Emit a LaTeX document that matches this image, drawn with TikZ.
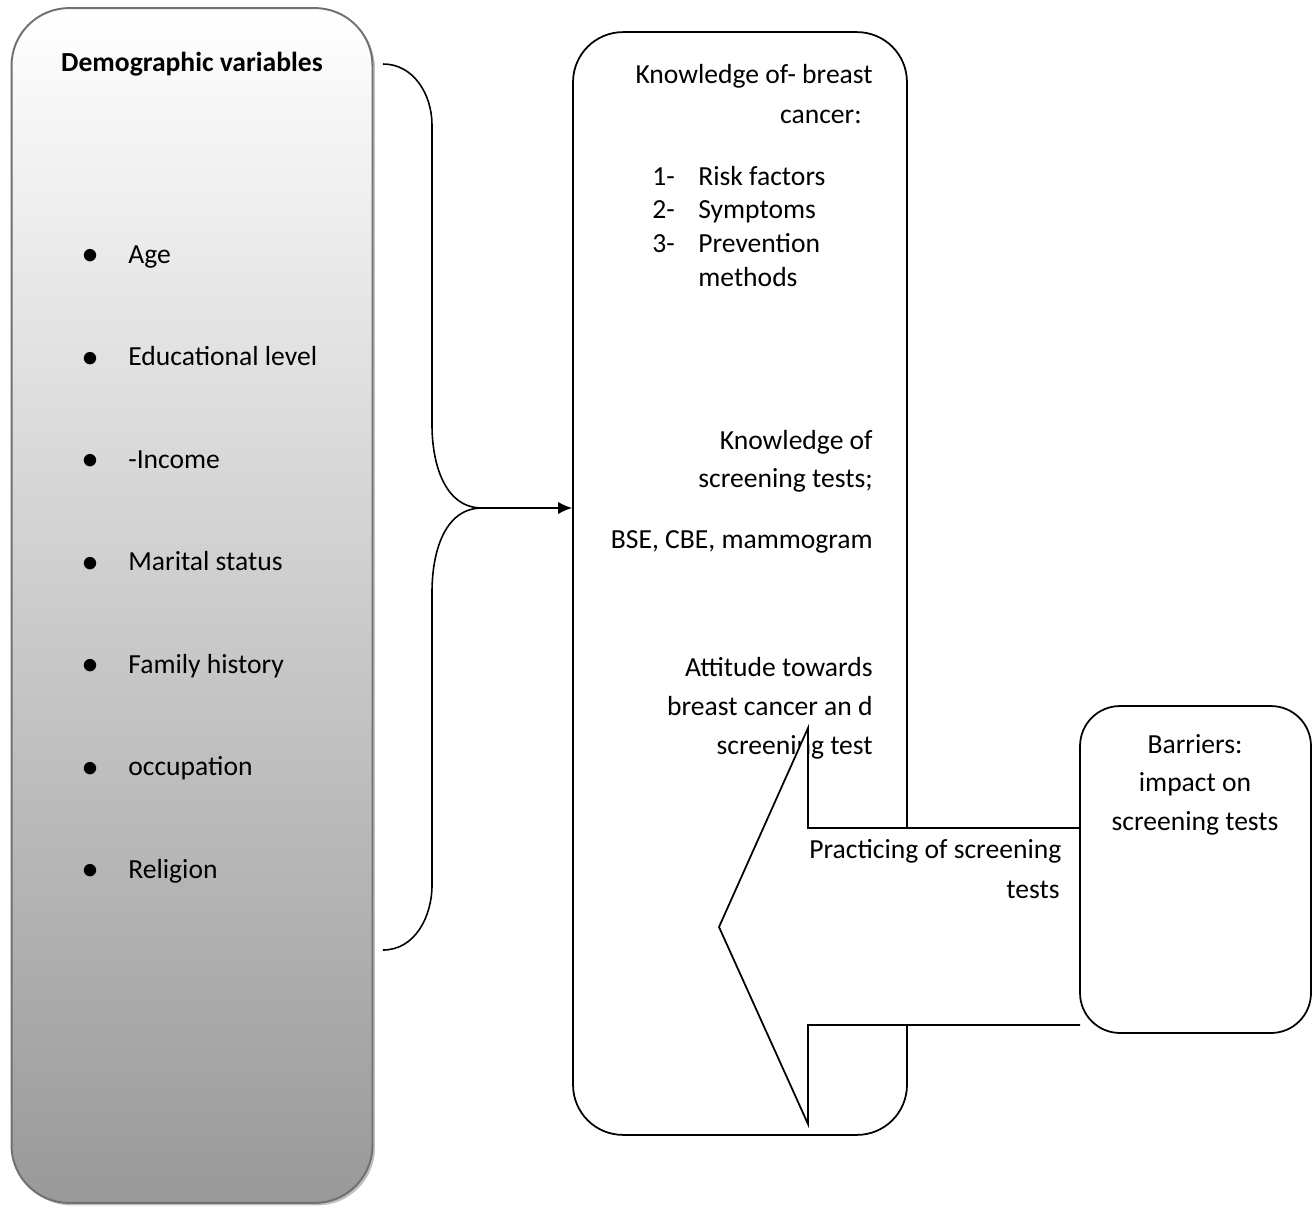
\documentclass[tikz,border=0pt]{standalone}
\usepackage{fontspec}
\setmainfont{Carlito}
\usetikzlibrary{positioning,shadows,arrows.meta}
\definecolor{demogray}{RGB}{153,153,153}
\definecolor{demoedge}{RGB}{112,112,112}
\tikzset{
   demo box/.style={rectangle, draw=demoedge, line width=1.1pt, rounded corners=1.15cm, top color=white, bottom color=demogray,
                    drop shadow={shadow xshift=0.05cm, shadow yshift=-0.05cm, fill=black, opacity=0.25}},
   frame box/.style={rectangle, draw=black, line width=1pt, rounded corners=1cm},
   txt/.style={inner sep=0pt, font=\fontsize{15.7}{19.3}\selectfont},
   item/.style={txt, anchor=base west},
   right line/.style={txt, anchor=base east},
   >={Latex[length=8pt,width=7pt]}
}
\newcommand{\bulletitem}[1]{\makebox[0.94cm][l]{\raisebox{-1.6pt}{\fontsize{20}{20}\selectfont•}}#1}

\begin{document}
\begin{tikzpicture}[x=0.02cm,y=-0.02cm]
  \useasboundingbox (0,0) rectangle (1314,1207);

  \node[demo box, minimum width=7.22cm, minimum height=23.9cm] at (192,605.5) (demographic) {};
  \node[frame box, minimum width=6.68cm, minimum height=22.06cm] at (740,583.5) (knowledge) {};

  %%%%%%%%%%%

  \node[txt, anchor=base, font=\fontsize{15.7}{19.3}\selectfont\bfseries] at (192,71) (demo title) {Demographic variables};
  \node[item] at (81,263)   (age)        {\bulletitem{Age}};
  \node[item] at (81,365.5) (education)  {\bulletitem{Educational level}};
  \node[item] at (81,468)   (income)     {\bulletitem{-Income}};
  \node[item] at (81,570.5) (marital)    {\bulletitem{Marital status}};
  \node[item] at (81,673)   (family)     {\bulletitem{Family history}};
  \node[item] at (81,775.5) (occupation) {\bulletitem{occupation}};
  \node[item] at (81,878)   (religion)   {\bulletitem{Religion}};

  \node[right line] at (873,83)  (know cancer 1) {Knowledge of- breast};
  \node[right line] at (862,123) (know cancer 2) {cancer:};
  \node[item] at (652,185) (risk)       {\makebox[0.92cm][l]{1-}Risk factors};
  \node[item] at (652,218) (symptoms)   {\makebox[0.92cm][l]{2-}Symptoms};
  \node[item] at (652,252) (prevention) {\makebox[0.92cm][l]{3-}Prevention};
  \node[item] at (698,286) (methods)    {methods};

  \node[right line] at (873,449) (know screen 1) {Knowledge of};
  \node[right line] at (873,487) (know screen 2) {screening tests;};
  \node[right line] at (873,548) (tests list)    {BSE, CBE, mammogram};

  \node[right line] at (873,676) (attitude 1) {Attitude towards};
  \node[right line] at (873,715) (attitude 2) {breast cancer an d};
  \node[right line] at (873,754) (attitude 3) {screening test};

  %%%%%%%%%%%

  \coordinate (brace top) at (383,64);
  \coordinate (brace tip) at (482,508);
  \coordinate (brace bottom) at (383,950);

  \draw[line width=0.9pt] (brace top) to[out=0,in=90] (432,125) -- (432,425) to[out=270,in=180] (brace tip)
        to[out=180,in=90] (432,592) -- (432,885) to[out=270,in=0] (brace bottom);
  \draw[->, line width=0.9pt] (brace tip) -- (brace tip -| knowledge.west);

  % block arrow for practice
  \coordinate (shaft top) at (1080,828);
  \coordinate (shaft bottom) at (1080,1025);
  \draw[line width=1pt, fill=white] (shaft top) -- (808,828) -- (808,728) -- (719,927) -- (808,1124) -- (808,1025) -- (shaft bottom);
  \node[item] at (809,858) (practice 1) {Practicing of screening};
  \node[right line] at (1060,898) (practice 2) {tests};

  \node[frame box, rounded corners=0.8cm, minimum width=4.62cm, minimum height=6.54cm] at (1195.5,869.5) (barriers) {};
  \node[txt, anchor=base] at (1195,753) (barriers 1) {Barriers:};
  \node[txt, anchor=base] at (1195,791) (barriers 2) {impact on};
  \node[txt, anchor=base] at (1195,830) (barriers 3) {screening tests};

\end{tikzpicture}
\end{document}
